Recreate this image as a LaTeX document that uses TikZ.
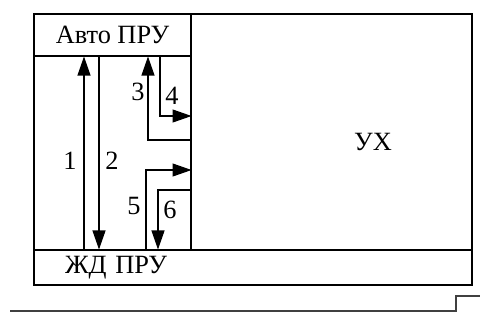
\documentclass[tikz,border=0pt]{standalone}
\usepackage{fontspec}
\setmainfont{Liberation Serif}
\usetikzlibrary{arrows.meta,positioning}
\tikzset{
  thinbox/.style={rectangle,draw=black,line width=0.6pt,inner sep=0pt,font=\fontsize{15}{18}\selectfont},
  plantbox/.style={rectangle,draw=black,line width=1.6pt,inner sep=0pt},
  numlabel/.style={inner sep=0pt,font=\fontsize{15}{17}\selectfont},
  arr/.style={-{Triangle[length=0.38cm,width=0.26cm]},line width=0.6pt,color=black},
  baseline/.style={line width=0.6pt,color=black!75}
}
\begin{document}
\begin{tikzpicture}[x=0.02cm,y=-0.02cm]
  \useasboundingbox (0,0) rectangle (480,322);
  % left column and the two loading blocks
  \node[thinbox,minimum width=3.14cm,minimum height=3.88cm] (col) at (112.5,153) {};
  \node[thinbox,minimum width=3.14cm,minimum height=0.84cm] (auto) at (112.5,35) {Авто ПРУ};
  \node[thinbox,minimum width=8.76cm,minimum height=0.7cm,text width=7.52cm,
        inner xsep=0.62cm,align=left] (zhd) at (253,267.5) {ЖД ПРУ};
  \node[plantbox,minimum width=8.76cm,minimum height=5.42cm] (plant) at (253,149.5) {};
  \node[thinbox,draw=none] (ux) at (373,142) {УХ};

  \coordinate (x1) at (84,0);
  \coordinate (x2) at (99,0);
  \coordinate (x3) at (148,0);
  \coordinate (x4) at (160,0);
  \coordinate (x5) at (146,0);
  \coordinate (x6) at (158,0);
  \coordinate (y3) at (0,140);
  \coordinate (y4) at (0,116);
  \coordinate (y5) at (0,170);
  \coordinate (y6) at (0,190);

  \draw[arr] (zhd.north -| x1) -- (auto.south -| x1);
  \draw[arr] (auto.south -| x2) -- (zhd.north -| x2);
  \draw[arr] (col.east |- y3) -| (auto.south -| x3);
  \draw[arr] (auto.south -| x4) |- (col.east |- y4);
  \draw[arr] (zhd.north -| x5) |- (col.east |- y5);
  \draw[arr] (col.east |- y6) -| (zhd.north -| x6);

  \node[numlabel] (n1) at (70,161) {1};
  \node[numlabel] (n2) at (112,161) {2};
  \node[numlabel] (n3) at (138,92) {3};
  \node[numlabel] (n4) at (172,96) {4};
  \node[numlabel] (n5) at (134,206) {5};
  \node[numlabel] (n6) at (170,210) {6};

  \draw[baseline,line join=miter] (10,311) -- (456,311) -- (456,296) -- (480,296);
\end{tikzpicture}
\end{document}
